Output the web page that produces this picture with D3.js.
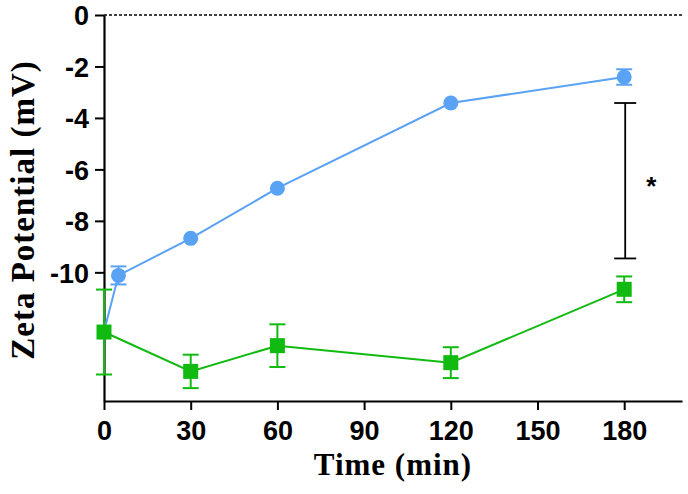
<!DOCTYPE html>
<html><head><meta charset="utf-8">
<script src="https://cdn.jsdelivr.net/npm/d3@7"></script>
<style>body{margin:0;background:#fff}svg{display:block}</style>
</head><body>
<svg id="c" width="688" height="494"></svg>
<script>
const blueTime = [0, 5, 30, 60, 120, 180];
const blueMean = [-12.3, -10.12, -8.68, -6.73, -3.42, -2.41];
const blueErr  = [0, 0.35, 0.1, 0.1, 0.1, 0.3];
const greenTime = [0, 30, 60, 120, 180];
const greenMean = [-12.32, -13.85, -12.85, -13.51, -10.66];
const greenErr  = [1.65, 0.65, 0.83, 0.6, 0.5];
const xTicks = [0, 30, 60, 90, 120, 150, 180];
const yTicks = [0, -2, -4, -6, -8, -10];
const sigTime = 180, sigTop = -3.42, sigBottom = -9.46;

const svg = d3.select("#c");
const x = d3.scaleLinear().domain([0, 200]).range([104, 682]);
const y = d3.scaleLinear().domain([-15, 0]).range([401, 15]);
const blue = "#5AA2F4", green = "#10BA10";

// dashed zero line
svg.append("line").attr("x1", x(0)).attr("x2", x(200)).attr("y1", y(0)).attr("y2", y(0))
  .attr("stroke", "#000").attr("stroke-width", 1.3).attr("stroke-dasharray", "3,2");

// axes
const yAxis = svg.append("g").attr("transform", `translate(${x(0)},0)`)
  .call(d3.axisLeft(y).tickValues(yTicks).tickFormat(d3.format("d")).tickSize(9).tickSizeOuter(0));
const xAxis = svg.append("g").attr("transform", `translate(0,${y(-15)})`)
  .call(d3.axisBottom(x).tickValues(xTicks).tickSize(9).tickSizeOuter(0));
[yAxis, xAxis].forEach(g => {
  g.select(".domain").attr("stroke", "#000").attr("stroke-width", 2.2);
  g.selectAll(".tick line").attr("stroke", "#000").attr("stroke-width", 2);
  g.selectAll(".tick text").attr("fill", "#000")
    .style("font-family", "Liberation Sans, Arial, sans-serif").style("font-weight", "bold").style("font-size", "27px");
});
yAxis.selectAll(".tick text").attr("x", -15).attr("dy", "0.36em").text(d => d === 0 ? "0" : "-" + Math.abs(d));
xAxis.selectAll(".tick text").attr("y", 20).attr("dy", "0.72em");

// axis titles
svg.append("text").attr("x", 393).attr("y", 475).attr("text-anchor", "middle")
  .style("font-family", "Liberation Serif, Times New Roman, serif").style("font-weight", "bold").style("font-size", "31px")
  .style("letter-spacing", "1px")
  .text("Time (min)");
svg.append("text").attr("transform", "translate(34,210) rotate(-90)").attr("text-anchor", "middle")
  .style("font-family", "Liberation Serif, Times New Roman, serif").style("font-weight", "bold").style("font-size", "33px")
  .style("letter-spacing", "1px")
  .text("Zeta Potential (mV)");

function series(times, means, errs, color, shape) {
  const data = times.map((t, i) => ({t, m: means[i], e: errs[i]}));
  const g = svg.append("g");
  g.append("path").datum(data).attr("fill", "none").attr("stroke", color).attr("stroke-width", 2)
    .attr("d", d3.line().x(d => x(d.t)).y(d => y(d.m)));
  const eb = g.selectAll(".eb").data(data.filter(d => d.e > 0.15)).join("g");
  eb.append("line").attr("x1", d => x(d.t)).attr("x2", d => x(d.t)).attr("y1", d => y(d.m + d.e)).attr("y2", d => y(d.m - d.e))
    .attr("stroke", color).attr("stroke-width", 2);
  [1, -1].forEach(s => eb.append("line").attr("x1", d => x(d.t) - 8).attr("x2", d => x(d.t) + 8)
    .attr("y1", d => y(d.m + s * d.e)).attr("y2", d => y(d.m + s * d.e)).attr("stroke", color).attr("stroke-width", 2));
  if (shape === "circle") {
    g.selectAll("circle").data(data.filter(d => d.t > 0)).join("circle")
      .attr("cx", d => x(d.t)).attr("cy", d => y(d.m)).attr("r", 7.5).attr("fill", color);
  } else {
    g.selectAll("rect").data(data).join("rect")
      .attr("x", d => x(d.t) - 7.5).attr("y", d => y(d.m) - 7.5).attr("width", 15).attr("height", 15).attr("fill", color);
  }
}
series(blueTime, blueMean, blueErr, blue, "circle");
series(greenTime, greenMean, greenErr, green, "square");

// significance bracket
const sx = x(sigTime) + 1;
const sg = svg.append("g").attr("stroke", "#000").attr("stroke-width", 1.8);
sg.append("line").attr("x1", sx).attr("x2", sx).attr("y1", y(sigTop)).attr("y2", y(sigBottom));
sg.append("line").attr("x1", sx - 11).attr("x2", sx + 11).attr("y1", y(sigTop)).attr("y2", y(sigTop));
sg.append("line").attr("x1", sx - 11).attr("x2", sx + 11).attr("y1", y(sigBottom)).attr("y2", y(sigBottom));
svg.append("text").attr("x", sx + 26).attr("y", y((sigTop + sigBottom) / 2) + 14).attr("text-anchor", "middle")
  .style("font-family", "Liberation Sans, Arial, sans-serif").style("font-weight", "bold").style("font-size", "26px").text("*");
</script>
</body></html>
